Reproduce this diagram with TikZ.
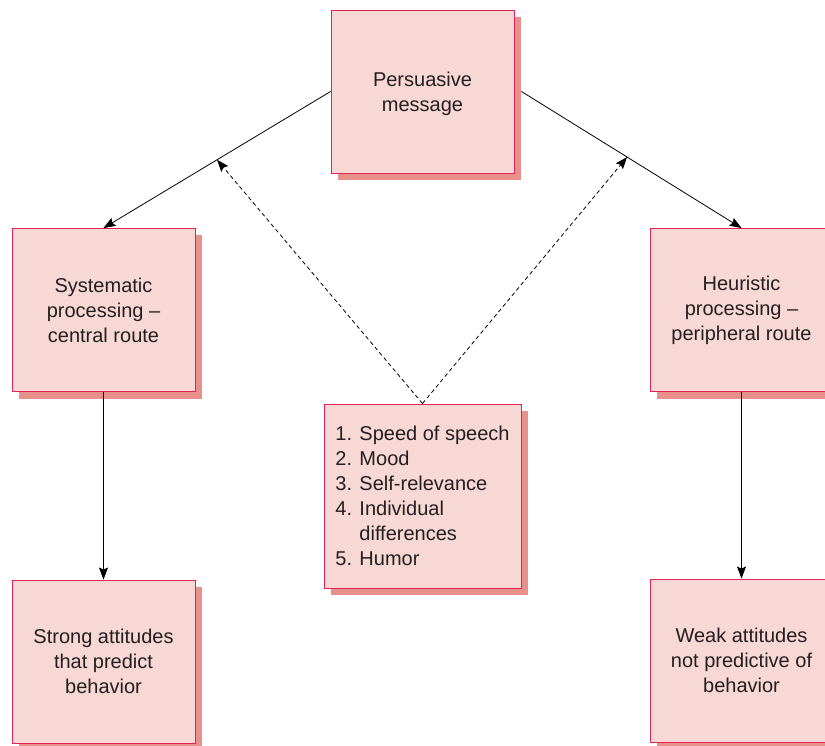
\documentclass[tikz,border=0pt]{standalone}
\usepackage{fontspec}
\setmainfont{Liberation Sans}
\usetikzlibrary{arrows.meta,shadows,calc}
\definecolor{boxfill}{HTML}{F8D8D5}
\definecolor{boxline}{HTML}{E0245A}
\definecolor{boxshadow}{HTML}{E8908C}
\definecolor{txt}{HTML}{231F20}
\tikzset{
  box/.style={draw=boxline, line width=0.9pt, fill=boxfill, text=txt,
    minimum width=183pt, minimum height=163pt, align=center, inner sep=0pt,
    font=\fontsize{20}{25}\selectfont,
    general shadow={fill=boxshadow, shadow xshift=7pt, shadow yshift=-7pt}},
  conn/.style={line width=0.8pt, draw=black, -{Stealth[length=12pt,width=9pt,inset=2pt]}},
  dconn/.style={conn, dash pattern=on 4pt off 3pt}
}
\begin{document}
\begin{tikzpicture}[x=1pt,y=-1pt]
\useasboundingbox[fill=white] (0,0) rectangle (825,746);
\node[box] (msg) at (422.5,91.5) {\rule{0pt}{20pt}Persuasive\\message};
\node[box] (sys) at (103.5,310) {Systematic\\processing --\\central route};
\node[box] (heu) at (741.5,310) {Heuristic\\processing --\\peripheral route};
\node[box] (strong) at (103.5,661.5) {Strong attitudes\\that predict\\behavior};
\node[box] (weak) at (741.5,660.5) {Weak attitudes\\not predictive of\\behavior};
\node[box, minimum width=197pt, minimum height=184pt, align=left] (list) at (422.5,496)
  {1. Speed of speech\\2. Mood\\3. Self-relevance\\4. Individual\\\hphantom{4. }differences\\5. Humor};
\draw[conn] (msg.west) -- (sys.north);
\draw[conn] ([xshift=7pt]msg.east) -- (heu.north);
\coordinate (lmid) at ($(msg.west)!0.5!(sys.north)$);
\coordinate (rmid) at ($([xshift=7pt]msg.east)!0.48!(heu.north)$);
\draw[dconn] (list.north) -- (lmid);
\draw[dconn] (list.north) -- (rmid);
\draw[conn] (sys.south) -- (strong.north);
\draw[conn] (heu.south) -- (weak.north);
\end{tikzpicture}
\end{document}
